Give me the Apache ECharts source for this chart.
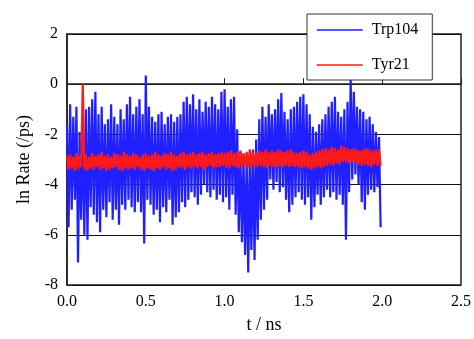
<!DOCTYPE html>
<html><head><meta charset="utf-8">
<script src="https://cdn.jsdelivr.net/npm/echarts@6/dist/echarts.min.js"></script>
<style>html,body{margin:0;padding:0;background:#fff;}#c{width:474px;height:339px;}</style>
</head><body><div id="c"></div>
<script>
// Trp104: alternating peak (t = 0.00, 0.02, ...) and trough (t = 0.01, 0.03, ...) values
var trpHigh = [-1.6,-0.8,-1.3,-0.9,-1.9,-1.5,-1.0,-0.9,-0.6,-0.3,
  -1.2,-0.9,-1.6,-1.4,-0.8,-1.3,-1.6,-1.0,-1.4,-0.8,
  -0.5,-1.2,-0.9,-0.6,-1.2,0.35,-0.9,-1.3,-1.5,-1.2,
  -1.1,-1.6,-1.3,-1.2,-1.5,-1.3,-1.2,-0.7,-0.5,-0.8,
  -0.4,-1.0,-0.6,-1.1,-0.7,-0.9,-0.5,-0.8,-1.0,-0.3,
  -0.2,-0.9,-0.6,-0.5,-1.8,-2.7,-2.9,-3.0,-2.8,-2.6,
  -2.2,-1.4,-0.9,-1.3,-0.8,-1.2,-1.0,-0.6,-0.35,-1.1,
  -1.4,-1.0,-0.9,-0.7,-0.5,-0.4,-0.8,-1.2,-1.7,-1.9,
  -1.6,-1.4,-1.2,-0.9,-0.7,-0.5,-1.1,-1.3,-1.0,-0.7,
  0.25,-0.3,-0.9,-1.0,-1.1,-1.4,-1.3,-1.6,-1.9,-2.1];
var trpLow = [-5.7,-5.0,-4.6,-7.1,-5.4,-6.0,-6.2,-4.9,-5.2,-5.5,
  -5.9,-5.0,-5.3,-4.7,-5.4,-5.0,-5.6,-4.8,-5.0,-4.6,
  -4.9,-5.1,-4.7,-5.1,-6.35,-4.6,-4.8,-5.2,-5.0,-5.5,
  -4.9,-5.1,-4.6,-5.6,-5.3,-5.1,-4.7,-4.9,-4.6,-4.3,
  -4.5,-4.8,-4.4,-4.0,-4.3,-4.5,-4.2,-4.6,-4.4,-4.7,
  -4.5,-5.0,-4.4,-5.2,-5.9,-6.3,-6.8,-7.5,-6.6,-7.0,
  -6.2,-5.4,-5.0,-4.6,-3.8,-4.2,-3.9,-4.3,-4.1,-4.6,
  -5.1,-4.8,-4.5,-4.3,-4.6,-4.8,-4.5,-5.4,-4.9,-4.4,
  -4.8,-4.5,-4.2,-4.5,-4.3,-4.6,-4.4,-4.8,-6.2,-4.3,
  -3.8,-3.6,-4.0,-4.7,-5.0,-4.4,-4.2,-4.3,-4.1,-5.7];
// Tyr21: alternating peak and trough values on the same time grid
var tyrHigh = [-2.85,-2.8,-2.9,-2.75,-2.85,0.0,-2.8,-2.9,-2.75,-2.85,
  -2.8,-2.7,-2.85,-2.8,-2.9,-2.75,-2.8,-2.85,-2.7,-2.8,
  -2.85,-2.75,-2.8,-2.9,-2.8,-2.75,-2.85,-2.8,-2.7,-2.8,
  -2.85,-2.75,-2.8,-2.7,-2.8,-2.85,-2.75,-2.7,-2.8,-2.75,
  -2.7,-2.8,-2.75,-2.7,-2.8,-2.75,-2.7,-2.8,-2.75,-2.7,
  -2.75,-2.7,-2.65,-2.75,-2.7,-2.65,-2.75,-2.7,-2.6,-2.7,
  -2.75,-2.65,-2.7,-2.6,-2.7,-2.65,-2.7,-2.6,-2.65,-2.7,
  -2.65,-2.6,-2.7,-2.75,-2.7,-2.65,-2.7,-2.8,-2.75,-2.7,
  -2.65,-2.6,-2.55,-2.6,-2.5,-2.55,-2.6,-2.45,-2.5,-2.55,
  -2.6,-2.55,-2.6,-2.65,-2.6,-2.55,-2.6,-2.65,-2.6,-2.6];
var tyrLow = [-3.4,-3.35,-3.45,-3.4,-3.3,-3.4,-3.45,-3.35,-3.4,-3.3,
  -3.4,-3.35,-3.45,-3.4,-3.35,-3.3,-3.4,-3.45,-3.35,-3.4,
  -3.35,-3.4,-3.3,-3.4,-3.45,-3.35,-3.4,-3.45,-3.35,-3.4,
  -3.3,-3.4,-3.35,-3.45,-3.4,-3.3,-3.35,-3.4,-3.3,-3.35,
  -3.3,-3.35,-3.3,-3.4,-3.3,-3.25,-3.35,-3.3,-3.3,-3.25,
  -3.3,-3.35,-3.25,-3.3,-3.35,-3.3,-3.25,-3.3,-3.35,-3.25,
  -3.3,-3.25,-3.3,-3.35,-3.25,-3.3,-3.3,-3.25,-3.3,-3.25,
  -3.3,-3.25,-3.3,-3.3,-3.35,-3.3,-3.35,-3.4,-3.35,-3.3,
  -3.35,-3.3,-3.25,-3.2,-3.25,-3.15,-3.2,-3.1,-3.1,-3.15,
  -3.1,-3.15,-3.2,-3.25,-3.2,-3.25,-3.3,-3.2,-3.25,-3.25];
var xTicks = [0, 0.5, 1.0, 1.5, 2.0, 2.5];
var yTicks = [-8, -6, -4, -2, 0, 2];
var dt = 0.01;

function build(hi, lo) {
  var out = [];
  for (var i = 0; i < hi.length; i++) {
    out.push([+(2 * i * dt).toFixed(3), hi[i]]);
    out.push([+((2 * i + 1) * dt).toFixed(3), lo[i]]);
  }
  return out;
}

var serif = '"Liberation Serif","DejaVu Serif",serif';
var chart = echarts.init(document.getElementById('c'), null, {renderer: 'canvas'});
chart.setOption({
  animation: false,
  backgroundColor: '#fff',
  grid: {left: 67, right: 13, top: 34, bottom: 52, show: true, borderColor: '#222', borderWidth: 1.5, backgroundColor: 'transparent'},
  legend: {
    orient: 'vertical', left: 307, top: 14,
    backgroundColor: '#fff', borderColor: '#333', borderWidth: 1, borderRadius: 0,
    padding: [8, 14, 7, 9], itemWidth: 46, itemHeight: 14, itemGap: 19,
    itemStyle: {opacity: 0},
    lineStyle: {width: 1.5},
    textStyle: {fontFamily: serif, fontSize: 16, color: '#000', padding: [0, 0, 0, 4]},
    data: ['Trp104', 'Tyr21']
  },
  xAxis: {
    type: 'value', min: xTicks[0], max: xTicks[xTicks.length - 1], interval: 0.5,
    name: 't / ns', nameLocation: 'middle', nameGap: 31,
    nameTextStyle: {fontFamily: serif, fontSize: 18, color: '#000'},
    axisLine: {show: true, lineStyle: {color: '#222', width: 1.5}},
    axisTick: {show: true, inside: true, length: 6, lineStyle: {color: '#222', width: 1}},
    axisLabel: {fontFamily: serif, fontSize: 16, color: '#000', margin: 9, formatter: function (v) { return v.toFixed(1); }},
    splitLine: {show: false}
  },
  yAxis: {
    type: 'value', min: yTicks[0], max: yTicks[yTicks.length - 1], interval: 2,
    name: 'ln Rate (/ps)', nameLocation: 'middle', nameGap: 34,
    nameTextStyle: {fontFamily: serif, fontSize: 18, color: '#000'},
    axisLine: {show: true, lineStyle: {color: '#222', width: 1.5}},
    axisTick: {show: true, inside: true, length: 5, lineStyle: {color: '#222', width: 1}},
    axisLabel: {fontFamily: serif, fontSize: 16, color: '#000', margin: 9},
    splitLine: {show: true, lineStyle: {color: '#111', width: 1}}
  },
  series: [
    {name: 'Trp104', type: 'line', symbol: 'none', showSymbol: false, sampling: null, data: build(trpHigh, trpLow),
      lineStyle: {color: '#1f1fff', width: 2.2, join: 'miter', miterLimit: 2}, itemStyle: {color: '#1f1fff'}, z: 2},
    {name: 'Tyr21', type: 'line', symbol: 'none', showSymbol: false, sampling: null, data: build(tyrHigh, tyrLow),
      lineStyle: {color: '#ff1a1a', width: 2.2, join: 'miter', miterLimit: 2}, itemStyle: {color: '#ff1a1a'}, z: 3}
  ]
});
</script></body></html>
